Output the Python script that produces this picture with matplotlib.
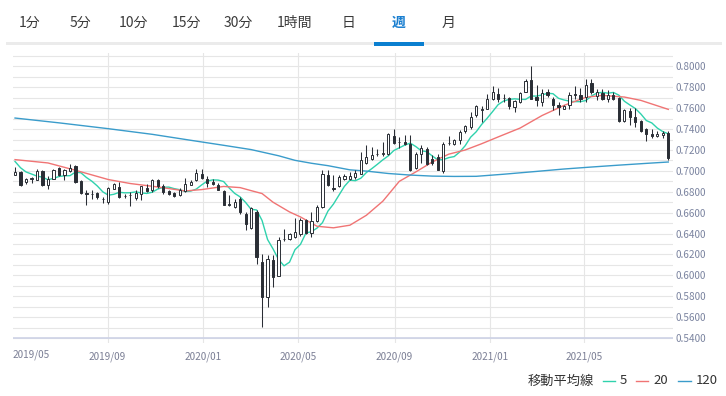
import numpy as np
import pandas as pd
import matplotlib
matplotlib.use('Agg')
import matplotlib.pyplot as plt
import matplotlib.dates as mdates
from matplotlib.lines import Line2D
from matplotlib.patches import Rectangle

plt.rcParams['font.family'] = ['Noto Sans CJK JP', 'DejaVu Sans']

# weekly candles, first week begins 2019-05-06
first_week = '2019-05-06'

opens = [0.6965, 0.6990, 0.6894, 0.6925, 0.6917, 0.6999, 0.6863, 0.6926, 0.7025, 0.6958,
         0.7000, 0.7044, 0.6900, 0.6790, 0.6780, 0.6790, 0.6735, 0.6704, 0.6831, 0.6847,
         0.6758, 0.6767, 0.6745, 0.6783, 0.6840, 0.6815, 0.6910, 0.6853, 0.6808, 0.6790,
         0.6767, 0.6808, 0.6869, 0.6910, 0.6974, 0.6926, 0.6894, 0.6869, 0.6808, 0.6680,
         0.6656, 0.6735, 0.6590, 0.6454, 0.6606, 0.6128, 0.5794, 0.6144, 0.5998, 0.6345,
         0.6346, 0.6368, 0.6397, 0.6527, 0.6403, 0.6517, 0.6654, 0.6957, 0.6835, 0.6852,
         0.6919, 0.6925, 0.6941, 0.6973, 0.7075, 0.7117, 0.7163, 0.7158, 0.7158, 0.7330,
         0.7278, 0.7276, 0.7260, 0.7030, 0.7158, 0.7212, 0.7117, 0.7133, 0.6995, 0.7270,
         0.7260, 0.7292, 0.7380, 0.7419, 0.7531, 0.7585, 0.7595, 0.7690, 0.7738, 0.7700,
         0.7697, 0.7611, 0.7658, 0.7760, 0.7866, 0.7706, 0.7658, 0.7754, 0.7690, 0.7627,
         0.7595, 0.7627, 0.7732, 0.7729, 0.7706, 0.7840, 0.7716, 0.7748, 0.7684, 0.7729,
         0.7697, 0.7473, 0.7570, 0.7515, 0.7473, 0.7397, 0.7355, 0.7330, 0.7339, 0.7362]
highs = [0.7040, 0.6996, 0.6933, 0.6942, 0.7022, 0.7012, 0.6948, 0.7018, 0.7037, 0.7021,
         0.7070, 0.7054, 0.6910, 0.6815, 0.6815, 0.6799, 0.6750, 0.6847, 0.6885, 0.6895,
         0.6783, 0.6799, 0.6815, 0.6856, 0.6878, 0.6926, 0.6926, 0.6878, 0.6820, 0.6799,
         0.6840, 0.6936, 0.6917, 0.7021, 0.7021, 0.6948, 0.6926, 0.6885, 0.6820, 0.6767,
         0.6735, 0.6752, 0.6606, 0.6655, 0.6622, 0.6207, 0.6192, 0.6192, 0.6365, 0.6445,
         0.6406, 0.6553, 0.6553, 0.6543, 0.6605, 0.6676, 0.7005, 0.7004, 0.6957, 0.6957,
         0.6973, 0.6989, 0.7005, 0.7181, 0.7244, 0.7228, 0.7212, 0.7276, 0.7362, 0.7404,
         0.7324, 0.7340, 0.7340, 0.7180, 0.7244, 0.7228, 0.7149, 0.7165, 0.7276, 0.7330,
         0.7308, 0.7388, 0.7440, 0.7563, 0.7633, 0.7626, 0.7738, 0.7808, 0.7792, 0.7738,
         0.7706, 0.7674, 0.7760, 0.7875, 0.8007, 0.7818, 0.7786, 0.7786, 0.7706, 0.7658,
         0.7633, 0.7754, 0.7812, 0.7792, 0.7875, 0.7882, 0.7786, 0.7786, 0.7770, 0.7760,
         0.7706, 0.7595, 0.7601, 0.7601, 0.7483, 0.7410, 0.7397, 0.7378, 0.7378, 0.7378]
lows = [0.6958, 0.6856, 0.6872, 0.6888, 0.6910, 0.6853, 0.6831, 0.6920, 0.6955, 0.6917,
        0.6990, 0.6888, 0.6783, 0.6672, 0.6735, 0.6735, 0.6688, 0.6682, 0.6822, 0.6745,
        0.6745, 0.6666, 0.6726, 0.6720, 0.6800, 0.6800, 0.6840, 0.6777, 0.6767, 0.6752,
        0.6758, 0.6800, 0.6863, 0.6904, 0.6926, 0.6847, 0.6863, 0.6815, 0.6670, 0.6666,
        0.6640, 0.6590, 0.6435, 0.6448, 0.6112, 0.5507, 0.5698, 0.5889, 0.5992, 0.6333,
        0.6336, 0.6362, 0.6374, 0.6391, 0.6368, 0.6508, 0.6640, 0.6852, 0.6807, 0.6846,
        0.6909, 0.6909, 0.6925, 0.6967, 0.7069, 0.7107, 0.7140, 0.7140, 0.7149, 0.7260,
        0.7222, 0.7250, 0.6995, 0.7021, 0.7075, 0.7059, 0.7053, 0.7005, 0.6983, 0.7244,
        0.7244, 0.7260, 0.7365, 0.7403, 0.7520, 0.7467, 0.7588, 0.7680, 0.7658, 0.7658,
        0.7595, 0.7563, 0.7652, 0.7754, 0.7684, 0.7620, 0.7620, 0.7706, 0.7579, 0.7531,
        0.7588, 0.7595, 0.7690, 0.7658, 0.7658, 0.7738, 0.7674, 0.7674, 0.7658, 0.7674,
        0.7467, 0.7467, 0.7441, 0.7419, 0.7371, 0.7282, 0.7314, 0.7324, 0.7314, 0.7100]
closes = [0.6990, 0.6863, 0.6920, 0.6930, 0.6999, 0.6863, 0.6926, 0.7012, 0.6964, 0.7006,
          0.7031, 0.6895, 0.6790, 0.6782, 0.6777, 0.6752, 0.6732, 0.6837, 0.6878, 0.6752,
          0.6757, 0.6770, 0.6790, 0.6853, 0.6808, 0.6910, 0.6853, 0.6800, 0.6777, 0.6758,
          0.6820, 0.6878, 0.6894, 0.6980, 0.6936, 0.6880, 0.6871, 0.6821, 0.6678, 0.6677,
          0.6706, 0.6610, 0.6490, 0.6645, 0.6176, 0.5794, 0.6160, 0.5985, 0.6342, 0.6350,
          0.6394, 0.6416, 0.6527, 0.6405, 0.6518, 0.6654, 0.6973, 0.6862, 0.6829, 0.6941,
          0.6948, 0.6950, 0.6980, 0.7101, 0.7133, 0.7149, 0.7165, 0.7171, 0.7356, 0.7266,
          0.7276, 0.7260, 0.7005, 0.7158, 0.7222, 0.7069, 0.7075, 0.7011, 0.7260, 0.7268,
          0.7292, 0.7372, 0.7425, 0.7515, 0.7620, 0.7590, 0.7690, 0.7754, 0.7690, 0.7697,
          0.7620, 0.7665, 0.7748, 0.7856, 0.7690, 0.7674, 0.7748, 0.7729, 0.7633, 0.7611,
          0.7620, 0.7722, 0.7728, 0.7690, 0.7824, 0.7760, 0.7760, 0.7684, 0.7729, 0.7690,
          0.7473, 0.7579, 0.7515, 0.7467, 0.7378, 0.7355, 0.7333, 0.7349, 0.7362, 0.7122]

# moving averages
ma5 = [0.7090, 0.7030, 0.6990, 0.6970, 0.6950, 0.6940, 0.6915, 0.6928, 0.6946, 0.6953,
       0.6954, 0.6988, 0.6982, 0.6937, 0.6901, 0.6855, 0.6799, 0.6767, 0.6776, 0.6795,
       0.6790, 0.6791, 0.6799, 0.6789, 0.6784, 0.6796, 0.6826, 0.6843, 0.6845, 0.6830,
       0.6820, 0.6802, 0.6807, 0.6825, 0.6866, 0.6902, 0.6914, 0.6912, 0.6898, 0.6837,
       0.6785, 0.6751, 0.6698, 0.6632, 0.6626, 0.6525, 0.6343, 0.6253, 0.6152, 0.6091,
       0.6126, 0.6246, 0.6297, 0.6406, 0.6418, 0.6452, 0.6504, 0.6615, 0.6682, 0.6767,
       0.6852, 0.6911, 0.6906, 0.6930, 0.6984, 0.7022, 0.7063, 0.7106, 0.7144, 0.7195,
       0.7221, 0.7247, 0.7266, 0.7233, 0.7193, 0.7184, 0.7143, 0.7106, 0.7107, 0.7127,
       0.7137, 0.7181, 0.7241, 0.7323, 0.7374, 0.7445, 0.7504, 0.7568, 0.7634, 0.7669,
       0.7684, 0.7690, 0.7685, 0.7684, 0.7717, 0.7716, 0.7727, 0.7743, 0.7739, 0.7695,
       0.7679, 0.7668, 0.7663, 0.7663, 0.7674, 0.7717, 0.7745, 0.7752, 0.7744, 0.7751,
       0.7725, 0.7667, 0.7631, 0.7597, 0.7545, 0.7482, 0.7459, 0.7410, 0.7376, 0.7355]
ma20_weeks = [0, 6, 11, 17, 21, 26, 31, 34, 38, 41, 43, 45, 47, 50, 52, 55, 58, 61, 64, 67,
              70, 73, 76, 79, 82, 85, 88, 92, 96, 100, 104, 107, 111, 114, 119]
ma20 = [0.7108, 0.7076, 0.7006, 0.6917, 0.6879, 0.6846, 0.6808, 0.6821, 0.6851, 0.6840,
        0.6811, 0.6783, 0.6700, 0.6607, 0.6559, 0.6470, 0.6455, 0.6480, 0.6575, 0.6710,
        0.6900, 0.6990, 0.7085, 0.7160, 0.7200, 0.7260, 0.7325, 0.7410, 0.7530, 0.7627,
        0.7705, 0.7723, 0.7707, 0.7675, 0.7589]
ma120_weeks = [0, 8, 17, 25, 32, 38, 43, 48, 51, 54, 57, 61, 64, 68, 72, 76, 80, 84, 89,
               95, 100, 105, 110, 115, 119]
ma120 = [0.7506, 0.7460, 0.7404, 0.7350, 0.7293, 0.7245, 0.7204, 0.7145, 0.7101, 0.7073,
         0.7050, 0.7010, 0.6998, 0.6975, 0.6960, 0.6950, 0.6947, 0.6948, 0.6968, 0.6995,
         0.7018, 0.7037, 0.7055, 0.7072, 0.7085]

tabs = ['1分', '5分', '10分', '15分', '30分', '1時間', '日', '週', '月']
tab_x = [30, 80, 133, 186, 238, 294, 349, 399, 449]
active_tab = '週'
month_ticks = ['2019-09-01', '2020-01-01', '2020-05-01', '2020-09-01', '2021-01-01', '2021-05-01']
month_labels = ['2019/09', '2020/01', '2020/05', '2020/09', '2021/01', '2021/05']
first_label = '2019/05'
legend_title = '移動平均線'
legend_items = ['5', '20', '120']

C_MA5 = '#2fd2ad'
C_MA20 = '#f07474'
C_MA120 = '#3a9ccb'
C_CANDLE = '#2a2e35'
W, H = 726, 396


def fx(px):
    return px / W


def fy(py):
    return 1 - py / H


dates = pd.date_range(first_week, periods=len(closes), freq='7D')
x = mdates.date2num(dates)
x0 = x[0]

fig = plt.figure(figsize=(W / 100, H / 100), dpi=100)
fig.patch.set_facecolor('white')

# tab bar
for name, px in zip(tabs, tab_x):
    active = name == active_tab
    fig.text(fx(px), fy(23), name, ha='center', va='center', fontsize=10,
             color='#1a7fd0' if active else '#3a3a3a',
             fontweight='bold' if active else 'normal')
fig.add_artist(Rectangle((fx(6), fy(45)), fx(716), 3 / H, color='#ebebeb',
                         transform=fig.transFigure, lw=0))
fig.add_artist(Rectangle((fx(374), fy(45.5)), fx(50), 4 / H, color='#0a7fd0',
                         transform=fig.transFigure, lw=0))

# price axes
ax = fig.add_axes([fx(13), fy(343), fx(660), 290 / H])
ax.set_xlim(x0 - 2.6, x0 + 839)
ax.set_ylim(0.54 - 5 / 1046, 0.81 + 3 / 1046)

yt = np.round(np.arange(0.54, 0.8101, 0.01), 2)
ax.set_yticks(yt)
ax.set_yticklabels([f'{v:.4f}' if i % 2 == 0 else '' for i, v in enumerate(yt)])
ax.yaxis.tick_right()
ax.tick_params(axis='y', length=0, pad=1.5, labelsize=7.2, labelcolor='#7b84a0')

ax.set_xticks(mdates.date2num(pd.to_datetime(month_ticks)))
ax.set_xticklabels(month_labels)
ax.tick_params(axis='x', length=0, pad=6, labelsize=7.2, labelcolor='#7b7f95')
ax.text(0.0, -12 / 290, first_label, transform=ax.transAxes, ha='left', va='center',
        fontsize=7.2, color='#7b7f95')

ax.grid(True, color='#e6e6e6', lw=0.8)
ax.set_axisbelow(True)
for s in ax.spines.values():
    s.set_visible(False)
ax.axhline(0.54, color='#cdd2e6', lw=1.2, zorder=1)

# moving averages
ax.plot(x, ma5, color=C_MA5, lw=1.0, zorder=2)
ax.plot(x0 + 7 * np.array(ma20_weeks), ma20, color=C_MA20, lw=1.0, zorder=2)
ax.plot(x0 + 7 * np.array(ma120_weeks), ma120, color=C_MA120, lw=1.0, zorder=2)

# candles
o = np.array(opens)
c = np.array(closes)
up = c >= o
ax.vlines(x, lows, highs, color=C_CANDLE, lw=0.75, zorder=3)
bottom = np.minimum(o, c)
height = np.maximum(np.abs(c - o), 0.0003)
ax.bar(x[up], height[up], bottom=bottom[up], width=2.8, color='white',
       edgecolor=C_CANDLE, lw=0.7, zorder=4)
ax.bar(x[~up], height[~up], bottom=bottom[~up], width=2.8, color=C_CANDLE,
       edgecolor=C_CANDLE, lw=0.7, zorder=4)

# legend
fig.text(fx(528), fy(381), legend_title, ha='left', va='center', fontsize=9.5, color='#333333')
for (x1, x2, tx), col, lab in zip([(603, 615, 620), (636, 648, 653), (678, 691, 696)],
                                  [C_MA5, C_MA20, C_MA120], legend_items):
    fig.add_artist(Line2D([fx(x1), fx(x2)], [fy(381), fy(381)], color=col, lw=1.0,
                          transform=fig.transFigure))
    fig.text(fx(tx), fy(381), lab, ha='left', va='center', fontsize=9.5, color='#333333')

fig.savefig('out.png', dpi=100)
